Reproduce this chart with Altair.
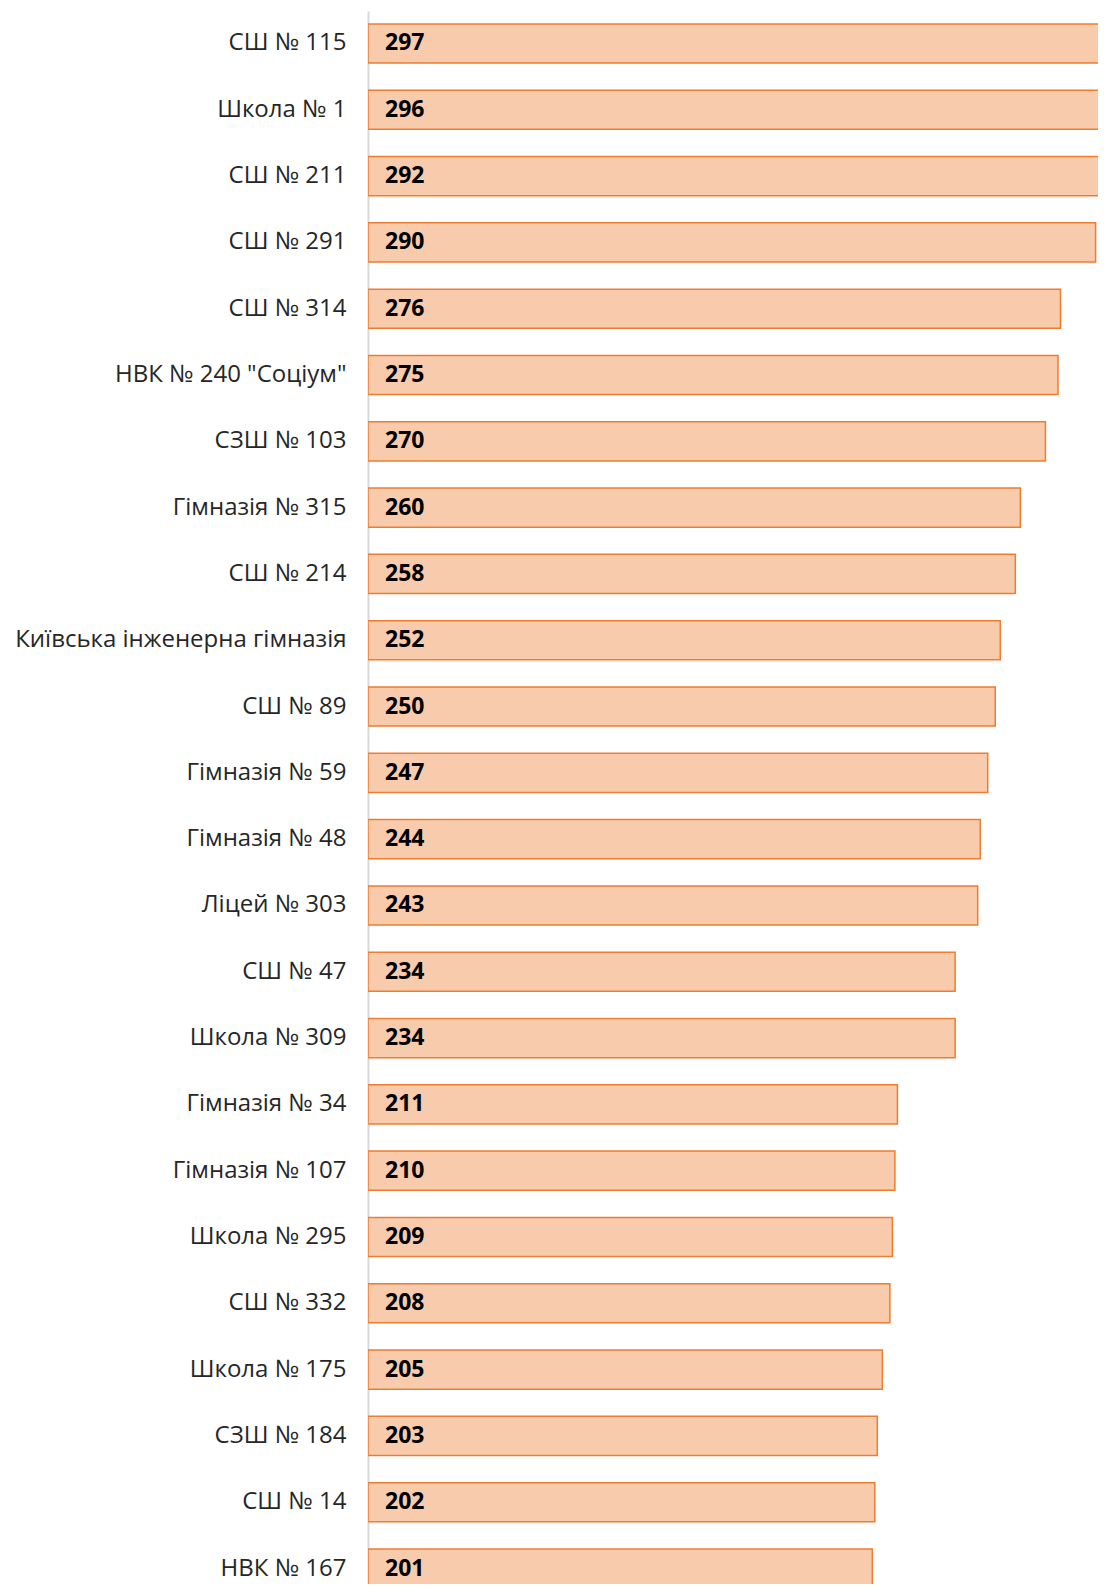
import altair as alt
import pandas as pd

names = [
    "СШ № 115", "Школа № 1", "СШ № 211", "СШ № 291", "СШ № 314",
    "НВК № 240 \"Соціум\"\u2005", "СЗШ № 103", "Гімназія № 315", "СШ № 214\u2005",
    "Київська інженерна гімназія", "СШ № 89", "Гімназія № 59", "Гімназія № 48",
    "Ліцей № 303", "СШ № 47\u2005", "Школа № 309", "Гімназія № 34",
    "Гімназія № 107", "Школа № 295", "СШ № 332", "Школа № 175",
    "СЗШ № 184", "СШ № 14\u2005", "НВК № 167",
]
values = [297, 296, 292, 290, 276, 275, 270, 260, 258, 252, 250, 247, 244,
          243, 234, 234, 211, 210, 209, 208, 205, 203, 202, 201]

df = pd.DataFrame({"name": names, "value": values})

FONT = "Open Sans"

y_enc = alt.Y(
    "name:N",
    sort=names,
    scale=alt.Scale(range=[0, 1590], paddingInner=0.41, paddingOuter=0.195),
    axis=alt.Axis(
        title=None, ticks=False, labelPadding=22, labelFontSize=24,
        labelFont=FONT, labelColor="#262626", labelLimit=500,
        domainColor="#D9D9D9", domainWidth=2,
    ),
)
x_scale = alt.Scale(domain=[0, 290.95], nice=False, zero=True)

bars = alt.Chart(df).mark_bar(
    fill="#F8CBAD", stroke="#ED7D31", strokeWidth=1.5, clip=True
).encode(
    x=alt.X("value:Q", scale=x_scale, axis=None),
    y=y_enc,
)

labels = alt.Chart(df).transform_calculate(zero="0").mark_text(
    align="left", baseline="middle", dx=17, font=FONT, fontSize=23,
    fontWeight="bold", color="#000000", clip=True
).encode(
    x=alt.X("zero:Q", scale=x_scale, axis=None),
    y=y_enc,
    text="value:Q",
)

chart = alt.layer(bars, labels).properties(
    width=730, height=1573,
    padding={"left": 360, "top": 3, "right": 0, "bottom": 0},
    autosize=alt.AutoSizeParams(type="none"),
).configure_view(stroke=None)

chart.save("out.html", embed_options={"renderer": "svg", "actions": False})
